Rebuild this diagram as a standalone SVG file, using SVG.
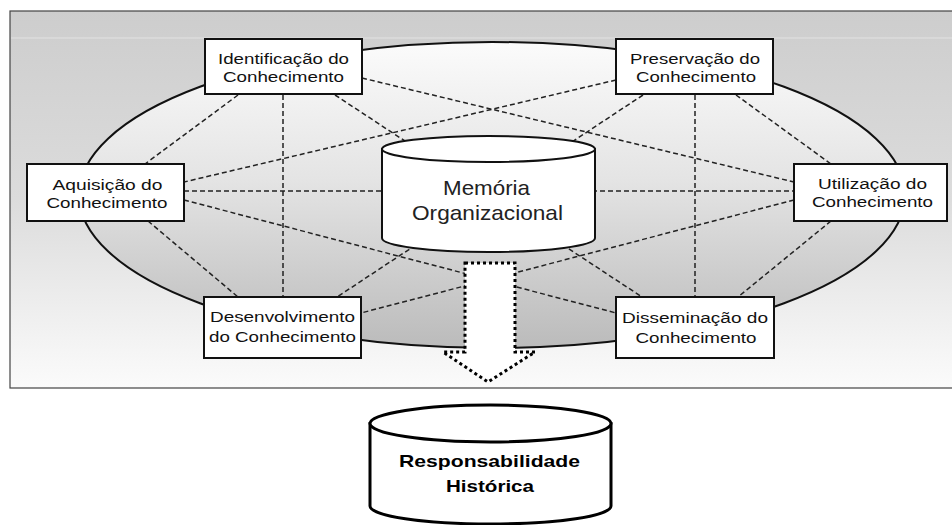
<svg xmlns="http://www.w3.org/2000/svg" width="952" height="525" viewBox="0 0 952 525">
<defs>
<linearGradient id="bg" x1="0" y1="0" x2="0" y2="1">
<stop offset="0" stop-color="#cdcdcd"/>
<stop offset="0.5" stop-color="#dcdcdc"/>
<stop offset="1" stop-color="#fbfbfb"/>
</linearGradient>
<linearGradient id="ell" x1="0" y1="0" x2="0" y2="1">
<stop offset="0" stop-color="#fbfbfb"/>
<stop offset="0.45" stop-color="#e4e4e4"/>
<stop offset="1" stop-color="#bbbbbb"/>
</linearGradient>
<style>
.box{fill:#fff;stroke:#111;stroke-width:2}
.t{font-family:"Liberation Sans",Arial,sans-serif;font-size:15.5px;fill:#111;text-anchor:middle}
.big{font-family:"Liberation Sans",Arial,sans-serif;font-size:21px;fill:#222;text-anchor:middle}
.bold{font-family:"Liberation Sans",Arial,sans-serif;font-size:17px;font-weight:bold;fill:#000;text-anchor:middle}
.dash{stroke:#222;stroke-width:1.5;stroke-dasharray:5 3;fill:none}
</style>
</defs>
<rect x="0" y="0" width="952" height="525" fill="#fff"/>
<rect x="10" y="11" width="945" height="377" fill="url(#bg)" stroke="#444" stroke-width="1.2"/>
<line x1="11" y1="38" x2="952" y2="38" stroke="#e2e2e2" stroke-width="1"/>
<ellipse id="ring" cx="492" cy="195" rx="413" ry="153" fill="url(#ell)" stroke="#111" stroke-width="2"/>
<g id="connectors">
<line class="dash" x1="238" y1="95" x2="145" y2="164"/>
<line class="dash" x1="283" y1="95" x2="283" y2="297"/>
<line class="dash" x1="362" y1="78" x2="794" y2="182"/>
<line class="dash" x1="335" y1="95" x2="642" y2="297"/>
<line class="dash" x1="616" y1="80" x2="184" y2="182"/>
<line class="dash" x1="643" y1="95" x2="337" y2="297"/>
<line class="dash" x1="695" y1="95" x2="695" y2="297"/>
<line class="dash" x1="736" y1="95" x2="831" y2="164"/>
<line class="dash" x1="184" y1="191" x2="794" y2="191"/>
<line class="dash" x1="148" y1="221" x2="238" y2="297"/>
<line class="dash" x1="184" y1="200" x2="616" y2="313"/>
<line class="dash" x1="794" y1="200" x2="361" y2="313"/>
<line class="dash" x1="831" y1="221" x2="738" y2="297"/>
</g>
<g id="memoria">
<path d="M382,149 L382,238 A106.5,14 0 0 0 595,238 L595,149 Z" fill="#fff" stroke="#111" stroke-width="2"/>
<ellipse cx="488.5" cy="149" rx="106.5" ry="13" fill="#fff" stroke="#111" stroke-width="2"/>
<text class="big" x="486.5" y="195" textLength="87" lengthAdjust="spacingAndGlyphs">Memória</text>
<text class="big" x="487.5" y="220" textLength="151" lengthAdjust="spacingAndGlyphs">Organizacional</text>
</g>
<g id="arrow">
<polygon points="465,263 515,263 515,352 535,352 488,382 443,352 465,352" fill="#fff" stroke="#000" stroke-width="3" stroke-dasharray="3 3"/>
</g>
<g id="identificacao">
<rect class="box" x="205" y="39" width="157" height="55"/>
<text class="t" x="283.5" y="63.5" textLength="131" lengthAdjust="spacingAndGlyphs">Identificação do</text>
<text class="t" x="283.5" y="81.5" textLength="121" lengthAdjust="spacingAndGlyphs">Conhecimento</text>
</g>
<g id="preservacao">
<rect class="box" x="616" y="39" width="157" height="55"/>
<text class="t" x="695" y="63.5" textLength="130" lengthAdjust="spacingAndGlyphs">Preservação do</text>
<text class="t" x="696" y="81.5" textLength="120" lengthAdjust="spacingAndGlyphs">Conhecimento</text>
</g>
<g id="aquisicao">
<rect class="box" x="27" y="164" width="157" height="57"/>
<text class="t" x="107.5" y="189.5" textLength="110" lengthAdjust="spacingAndGlyphs">Aquisição do</text>
<text class="t" x="107" y="207.5" textLength="121" lengthAdjust="spacingAndGlyphs">Conhecimento</text>
</g>
<g id="utilizacao">
<rect class="box" x="794" y="164" width="153" height="57"/>
<text class="t" x="872.5" y="189" textLength="109" lengthAdjust="spacingAndGlyphs">Utilização do</text>
<text class="t" x="872.5" y="207" textLength="121" lengthAdjust="spacingAndGlyphs">Conhecimento</text>
</g>
<g id="desenvolvimento">
<rect class="box" x="204" y="297" width="157" height="61"/>
<text class="t" x="282.5" y="322" textLength="145" lengthAdjust="spacingAndGlyphs">Desenvolvimento</text>
<text class="t" x="282.5" y="342" textLength="147" lengthAdjust="spacingAndGlyphs">do Conhecimento</text>
</g>
<g id="disseminacao">
<rect class="box" x="616" y="297" width="158" height="61"/>
<text class="t" x="695" y="323" textLength="146" lengthAdjust="spacingAndGlyphs">Disseminação do</text>
<text class="t" x="696" y="343" textLength="121" lengthAdjust="spacingAndGlyphs">Conhecimento</text>
</g>
<g id="responsabilidade">
<path d="M370,423.5 L370,506 A120.5,18 0 0 0 611,506 L611,423.5 Z" fill="#fff" stroke="#000" stroke-width="3"/>
<ellipse cx="490.5" cy="423.5" rx="120.5" ry="18.5" fill="#fff" stroke="#000" stroke-width="3"/>
<text class="bold" x="489.5" y="467" textLength="181" lengthAdjust="spacingAndGlyphs">Responsabilidade</text>
<text class="bold" x="490" y="492" textLength="88" lengthAdjust="spacingAndGlyphs">Histórica</text>
</g>
</svg>
